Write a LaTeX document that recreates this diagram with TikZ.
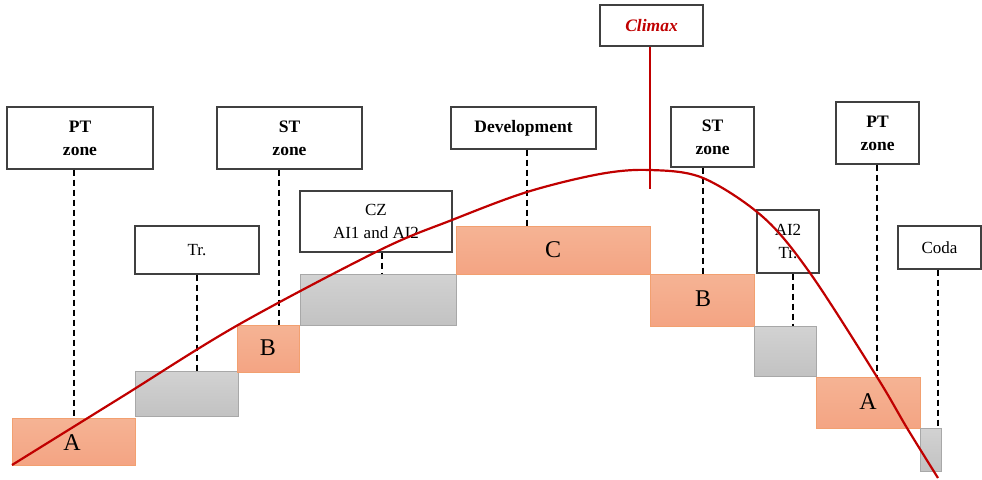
\documentclass[tikz,border=0pt]{standalone}
\usepackage{fontspec}
\setmainfont{Liberation Serif}
\definecolor{orfill}{HTML}{F5B394}
\definecolor{orfillB}{HTML}{F4A483}
\definecolor{orline}{HTML}{F2A070}
\definecolor{grfill}{HTML}{D2D2D2}
\definecolor{grfillB}{HTML}{C2C2C2}
\definecolor{grline}{HTML}{A8A8A8}
\definecolor{curvered}{HTML}{C00000}
\definecolor{boxline}{HTML}{404040}
\tikzset{
  orbox/.style={draw=orline, line width=0.9pt, top color=orfill, bottom color=orfillB, inner sep=0pt},
  grbox/.style={draw=grline, line width=0.9pt, top color=grfill, bottom color=grfillB, inner sep=0pt},
  lbl/.style={draw=boxline, fill=white, line width=1.1pt, inner sep=0pt, align=center, font=\fontsize{17}{23}\selectfont},
  boldlbl/.style={lbl, font=\fontsize{17.5}{23}\selectfont\bfseries},
  big/.style={font=\fontsize{24}{24}\selectfont},
  dash line/.style={draw=black, line width=1.9pt, dash pattern=on 6pt off 4pt},
  redline/.style={draw=curvered, line width=2.2pt},
}
\begin{document}
\begin{tikzpicture}[x=1pt,y=-1pt]
\useasboundingbox (0,0) rectangle (982,479);
% blocks
\newcommand{\blk}[6]{\node[#1, minimum width=#4-#2, minimum height=#5-#3, anchor=north west] (#6) at (#2,#3) {};}
\blk{orbox}{12}{418}{135}{465}{A1}
\blk{grbox}{135}{371}{238}{416}{T1}
\blk{orbox}{237}{325}{299}{372}{B1}
\blk{grbox}{300}{274}{456}{325}{CZb}
\blk{orbox}{456}{226}{650}{274}{Cb}
\blk{orbox}{650}{274}{754}{326}{B2}
\blk{grbox}{754}{326}{816}{376}{T2}
\blk{orbox}{816}{377}{920}{428}{A2}
\blk{grbox}{920}{428}{941}{471}{Co}
\node[big] at (72,443) {A};
\node[big] at (268,348) {B};
\node[big] at (553,250) {C};
\node[big] at (703,299) {B};
\node[big] at (868,402) {A};
% label boxes
\newcommand{\lbx}[7]{\node[#1, minimum width=#4-#2, minimum height=#5-#3] (#6) at ({(#2+#4)/2},{(#3+#5)/2}) {#7};}
\lbx{boldlbl}{7}{107}{153}{169}{pt1}{PT\\zone}
\lbx{lbl}{135}{226}{259}{274}{tr1}{Tr.}
\lbx{boldlbl}{217}{107}{362}{169}{st1}{ST\\zone}
\lbx{lbl}{300}{191}{452}{252}{cz}{CZ\\AI1 and AI2}
\lbx{boldlbl}{451}{107}{596}{149}{dev}{Development}
\lbx{boldlbl}{600}{5}{703}{46}{cl}{\textcolor{curvered}{\itshape Climax}}
\lbx{boldlbl}{671}{107}{754}{167}{st2}{ST\\zone}
\lbx{lbl}{757}{210}{819}{273}{ai}{AI2\\Tr.}
\lbx{boldlbl}{836}{102}{919}{164}{pt2}{PT\\zone}
\lbx{lbl}{898}{226}{981}{269}{coda}{Coda}
% dashed connectors
\draw[dash line] (pt1.south -| 74,0) -- (A1.north -| 74,0);
\draw[dash line] (tr1.south -| 197,0) -- (T1.north -| 197,0);
\draw[dash line] (st1.south -| 279,0) -- (B1.north -| 279,0);
\draw[dash line] (cz.south -| 382,0) -- (CZb.north -| 382,0);
\draw[dash line] (dev.south -| 527,0) -- (Cb.north -| 527,0);
\draw[dash line] (st2.south -| 703,0) -- (B2.north -| 703,0);
\draw[dash line] (ai.south -| 793,0) -- (T2.north -| 793,0);
\draw[dash line] (pt2.south -| 877,0) -- (A2.north -| 877,0);
\draw[dash line] (coda.south -| 938,0) -- (Co.north -| 938,0);
% climax line
\coordinate (clend) at (650,189);
\draw[redline] (cl.south -| clend) -- (clend);
% curve
\draw[redline] plot[smooth, tension=0.55] coordinates {(12,465) (120,398) (238,325) (380,250) (452,220) (527,192) (600,174) (650,170) (703,178) (763,217) (810,273) (877,377) (907,428) (938,478)};
\end{tikzpicture}
\end{document}
